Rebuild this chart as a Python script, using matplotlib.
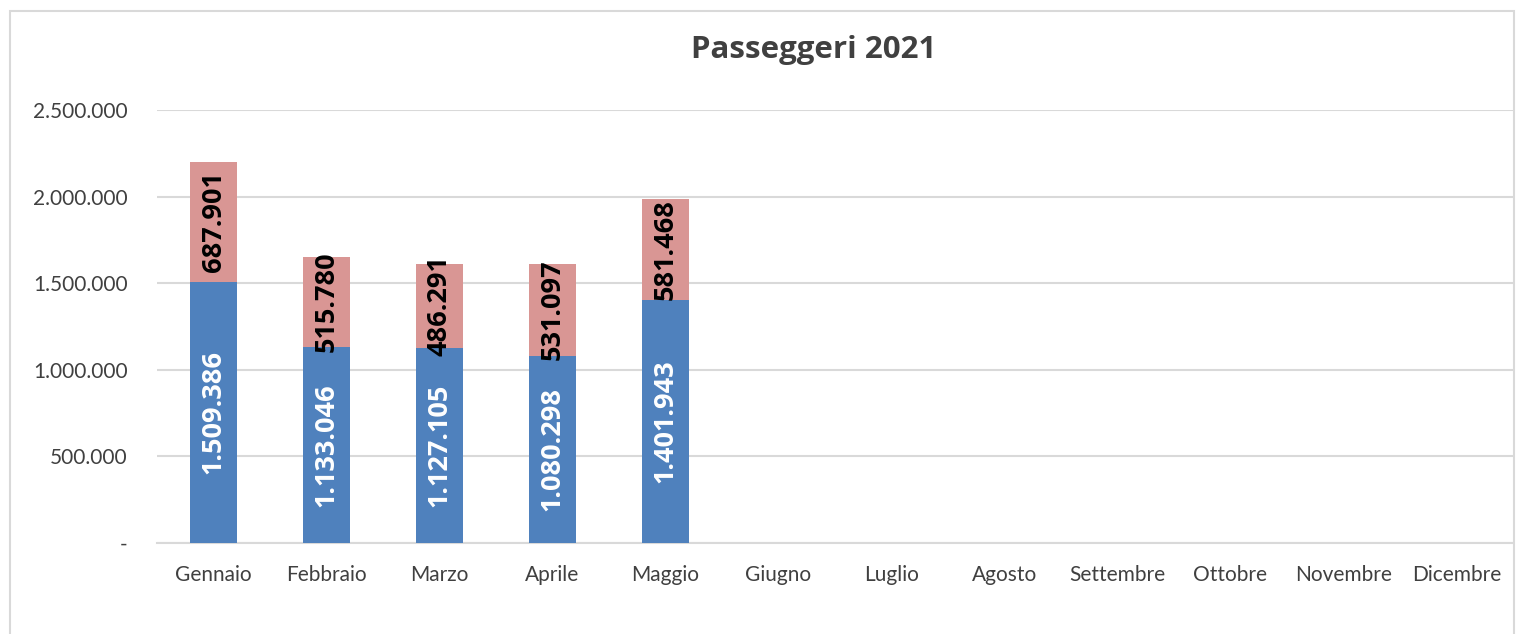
import matplotlib.pyplot as plt
from matplotlib.patches import Rectangle
from matplotlib.ticker import FuncFormatter

mesi = ["Gennaio", "Febbraio", "Marzo", "Aprile", "Maggio", "Giugno", "Luglio",
        "Agosto", "Settembre", "Ottobre", "Novembre", "Dicembre"]
serie_a = [1509386, 1133046, 1127105, 1080298, 1401943]
serie_b = [687901, 515780, 486291, 531097, 581468]
yticks = [0, 500000, 1000000, 1500000, 2000000, 2500000]

BLU = "#4F81BD"
ROSA = "#D99694"
GRIGIO = "#404040"
BOLD_FONT = ["Open Sans", "DejaVu Sans"]

plt.rcParams["font.family"] = ["Lato", "DejaVu Sans"]

W, H = 1517, 634
fig = plt.figure(figsize=(W / 100, H / 100), dpi=100)
ax = fig.add_axes([157 / W, 1 - 543 / H, (1513 - 157) / W, (543 - 110) / H])

# chart border
fig.patches.append(Rectangle((10 / W, -0.05), (1514 - 10) / W, 1.05 - 11 / H,
                             transform=fig.transFigure, fill=False,
                             edgecolor="#D9D9D9", linewidth=1.5))

x = list(range(len(mesi)))
n = len(serie_a)
w = 0.41
ax.bar(x[:n], serie_a, width=w, color=BLU, zorder=3)
ax.bar(x[:n], serie_b, width=w, bottom=serie_a, color=ROSA, zorder=3)

def fmt(v):
    return f"{v:,.0f}".replace(",", ".")

for i in range(n):
    ax.text(x[i], serie_a[i] / 2, fmt(serie_a[i]), rotation=90, ha="center",
            va="center", color="white", fontsize=19.5, fontweight="bold",
            family=BOLD_FONT, zorder=4)
    ax.text(x[i], serie_a[i] + serie_b[i] / 2, fmt(serie_b[i]), rotation=90,
            ha="center", va="center", color="black", fontsize=19.5,
            fontweight="bold", family=BOLD_FONT, zorder=4)

ax.set_xlim(-0.5, len(mesi) - 0.5)
ax.set_ylim(0, 2500000)
ax.set_yticks(yticks)
ax.yaxis.set_major_formatter(FuncFormatter(lambda v, p: "-" if v == 0 else fmt(v)))
ax.set_xticks(x)
ax.set_xticklabels(mesi)
ax.tick_params(axis="both", length=0, labelsize=15, colors=GRIGIO)
ax.tick_params(axis="y", pad=21)
ax.tick_params(axis="x", pad=16)
ax.grid(axis="y", color="#D9D9D9", linewidth=1.5, zorder=0)
for s in ["top", "right", "left"]:
    ax.spines[s].set_visible(False)
ax.spines["bottom"].set_color("#D9D9D9")
ax.spines["bottom"].set_linewidth(1.5)

fig.text(814 / W, 1 - 50 / H, "Passeggeri 2021", ha="center", va="center",
         fontsize=22.5, fontweight="bold", family=BOLD_FONT, color=GRIGIO)

fig.savefig("out.png", dpi=100)
